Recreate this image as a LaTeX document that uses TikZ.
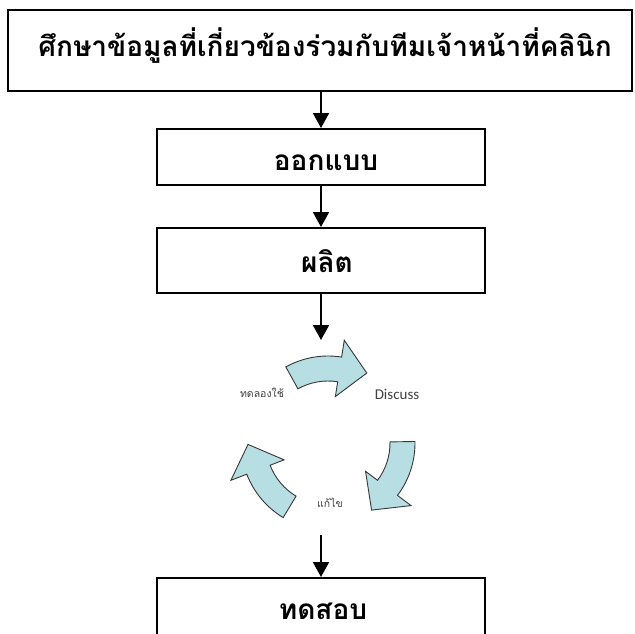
\documentclass[tikz,border=0pt]{standalone}
\usepackage{fontspec}
\usetikzlibrary{arrows.meta}
\newfontfamily\thaifont[Script=Thai]{Loma}
\newfontfamily\carl{Carlito}
\definecolor{cycfill}{RGB}{183,222,227}
\definecolor{cycline}{RGB}{55,55,55}
\definecolor{cyctext}{RGB}{64,64,64}
\tikzset{
  boxnode/.style={draw=black, line width=2pt, rectangle, inner sep=0pt, fill=white},
  bigthai/.style={font=\thaifont\bfseries\fontsize{28}{32}\selectfont, inner sep=0pt},
  smallthai/.style={font=\thaifont\fontsize{10.5}{12}\selectfont, text=cyctext, inner sep=0pt},
  engl/.style={font=\carl\fontsize{15}{17}\selectfont, text=cyctext, inner sep=0pt},
  flowarrow/.style={line width=2pt, -{Triangle[width=16pt,length=15pt]}},
  cycarrow/.style={fill=cycfill, draw=cycline, line width=0.9pt, line join=miter}
}
% circular block arrow: #1 rotation
\newcommand{\cycarr}[1]{%
  \begin{scope}[shift={(328,443)}, x=1pt, y=1pt, rotate=#1]
    \path[cycarrow] (119:87) arc[start angle=119, end angle=81, radius=87]
      -- (81:104) -- (61:80) -- (81:47) -- (81:62)
      arc[start angle=81, end angle=119, radius=62] -- cycle;
  \end{scope}}
\begin{document}
\begin{tikzpicture}[x=1pt,y=-1pt]
\useasboundingbox (0,0) rectangle (635,633);
\clip (0,0) rectangle (635,633);
\fill[white] (0,0) rectangle (635,633);

% boxes
\node[boxnode, minimum width=624pt, minimum height=81pt] (b1) at (320,50.5) {};
\node[boxnode, minimum width=328pt, minimum height=56pt] (b2) at (321,157) {};
\node[boxnode, minimum width=328pt, minimum height=65pt] (b3) at (321,260.5) {};
\node[boxnode, minimum width=328pt, minimum height=90pt] (b4) at (321,623) {};

% texts
\node[bigthai] (t1) at (325,46) {ศึกษาข้อมูลที่เกี่ยวข้องร่วมกับทีมเจ้าหน้าที่คลินิก};
\node[bigthai] (t2) at (326,163) {ออกแบบ};
\node[bigthai] (t3) at (327,261) {ผลิต};
\node[bigthai] (t4) at (323,611) {ทดสอบ};

% cycle
\cycarr{0}
\cycarr{-118}
\cycarr{120}
\node[smallthai] (c1) at (262,393) {ทดลองใช้};
\node[engl] (c2) at (397,394) {Discuss};
\node[smallthai] (c3) at (330,503) {แก้ไข};

\coordinate (cin) at (321,340);
\coordinate (cout) at (321,535);

% connectors
\draw[flowarrow] (b1.south -| b2.north) -- (b2.north);
\draw[flowarrow] (b2.south) -- (b3.north);
\draw[flowarrow] (b3.south) -- (cin);
\draw[flowarrow] (cout) -- (b4.north);
\end{tikzpicture}
\end{document}
